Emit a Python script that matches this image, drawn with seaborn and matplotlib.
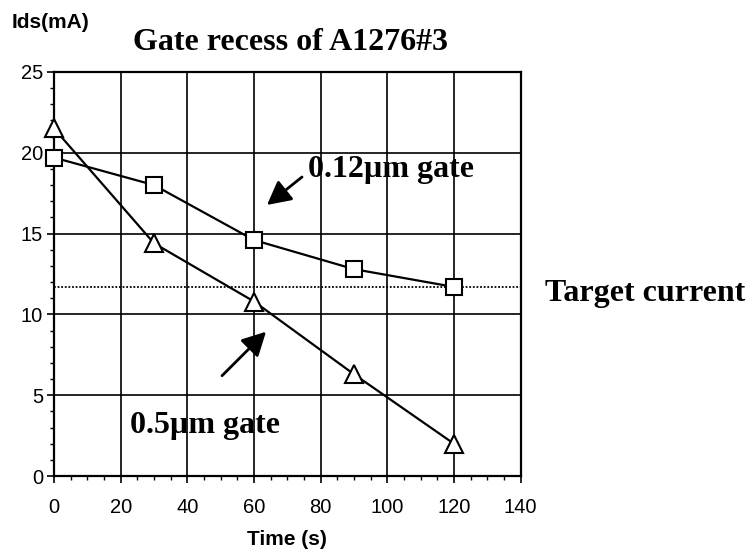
import matplotlib
matplotlib.use("Agg")
import matplotlib.pyplot as plt
from matplotlib.ticker import MultipleLocator
import seaborn as sns
import pandas as pd

# ---- data ----
time_s = [0, 30, 60, 90, 120]
ids_012um = [19.7, 18.0, 14.6, 12.8, 11.7]
ids_05um = [21.5, 14.4, 10.8, 6.3, 2.0]
target_current = 11.7
x_ticks = [0, 20, 40, 60, 80, 100, 120, 140]
y_ticks = [0, 5, 10, 15, 20, 25]

sns.set_theme(style="ticks")
plt.rcParams["font.family"] = ["Liberation Sans", "DejaVu Sans"]
plt.rcParams["text.color"] = "black"
plt.rcParams["axes.labelcolor"] = "black"
plt.rcParams["xtick.color"] = "black"
plt.rcParams["ytick.color"] = "black"

fig = plt.figure(figsize=(7.46, 5.53), dpi=100)
ax = fig.add_axes([0.0724, 0.139, 0.6256, 0.731])

df012 = pd.DataFrame({"t": time_s, "ids": ids_012um})
df05 = pd.DataFrame({"t": time_s, "ids": ids_05um})

line_kw = dict(color="black", linewidth=1.6, markerfacecolor="white",
               markeredgecolor="black", markeredgewidth=1.5, zorder=5, clip_on=False)
sns.lineplot(data=df012, x="t", y="ids", ax=ax, marker="s", markersize=12, **line_kw)
sns.lineplot(data=df05, x="t", y="ids", ax=ax, marker="^", markersize=13, **line_kw)

ax.axhline(target_current, color="black", linestyle=(0, (1, 1)), linewidth=1.3, zorder=3)

ax.set_xlim(x_ticks[0], x_ticks[-1])
ax.set_ylim(y_ticks[0], y_ticks[-1])
ax.set_xticks(x_ticks)
ax.set_yticks(y_ticks)
ax.xaxis.set_minor_locator(MultipleLocator(5))
ax.yaxis.set_minor_locator(MultipleLocator(1))
ax.grid(True, which="major", color="black", linewidth=1.2)
for s in ax.spines.values():
    s.set_visible(True)
    s.set_color("black")
    s.set_linewidth(1.6)
ax.tick_params(which="major", direction="out", length=5, width=1.2, colors="black",
               labelsize=14.5)
ax.tick_params(axis="x", which="major", pad=11)
ax.tick_params(axis="y", which="major", pad=3)
ax.tick_params(which="minor", direction="out", length=3, width=1.0, colors="black")

ax.set_xlabel("Time (s)", fontsize=15, fontweight="bold", labelpad=9, color="black")
ax.set_ylabel("")

serif = ["Liberation Serif", "DejaVu Serif"]
fig.text(0.016, 0.949, "Ids(mA)", fontsize=15, fontweight="bold", ha="left", va="baseline")
fig.text(0.390, 0.9096, "Gate recess of A1276#3", fontsize=23, fontweight="bold",
         family=serif, ha="center", va="baseline")
fig.text(0.7306, 0.4557, "Target current", fontsize=23, fontweight="bold",
         family=serif, ha="left", va="baseline")

ax.text(76.2, 18.5, "0.12µm gate", fontsize=23, fontweight="bold", family=serif,
        ha="left", va="baseline", zorder=6)
ax.text(22.8, 2.66, "0.5µm gate", fontsize=23, fontweight="bold", family=serif,
        ha="left", va="baseline", zorder=6)

arrow_kw = dict(arrowstyle="-|>,head_length=0.4,head_width=0.21", mutation_scale=36,
                lw=2.0, color="black", shrinkA=0, shrinkB=0)
ax.annotate("", xy=(63.9, 16.77), xytext=(74.4, 18.5), arrowprops=arrow_kw, zorder=6)
ax.annotate("", xy=(63.6, 8.93), xytext=(50.4, 6.21), arrowprops=arrow_kw, zorder=6)

fig.savefig("out.png", dpi=100, facecolor="white")
